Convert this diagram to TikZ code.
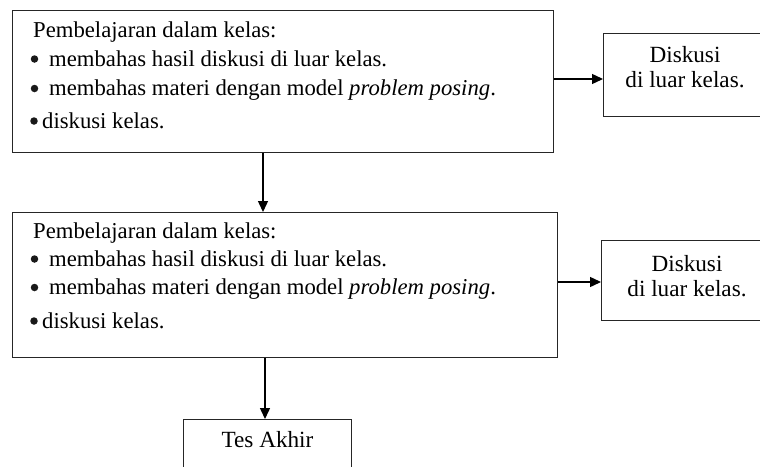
\documentclass[tikz,border=0pt]{standalone}
\usepackage{fontspec}
\setmainfont{Liberation Serif}
\usetikzlibrary{arrows.meta}
\begin{document}
\begin{tikzpicture}[x=1pt,y=-1pt,
  box/.style={draw=black!85,line width=1.4pt,inner sep=0pt,anchor=north west},
  txt/.style={anchor=base west,inner sep=0pt,font=\fontsize{22.7}{27}\selectfont},
  ctxt/.style={anchor=base,inner sep=0pt,font=\fontsize{23.2}{27}\selectfont},
  bul/.style={circle,fill=black!90,inner sep=0pt,minimum size=7.5pt},
  conn/.style={line width=1.4pt,-{Triangle[length=11pt,width=10pt]}}]
\useasboundingbox (0,0) rectangle (760,466);
\clip (0,0) rectangle (760,466);
% box 1
\node[box,minimum width=541pt,minimum height=142pt] (b1) at (12,9.5) {};
\node[txt] (b1l1) at (33,37) {Pembelajaran dalam kelas:};
\node[bul] (b1p2) at (34.5,59) {};
\node[txt] (b1l2) at (49,66) {membahas hasil diskusi di luar kelas.};
\node[bul] (b1p3) at (34.5,88.5) {};
\node[txt] (b1l3) at (49,95.5) {membahas materi dengan model \textit{problem posing}.};
\node[bul] (b1p4) at (34,121) {};
\node[txt] (b1l4) at (42,128) {diskusi kelas.};
% side box 1
\node[box,minimum width=170pt,minimum height=83pt] (s1) at (603,33) {};
\node[ctxt] (s1a) at (685,62) {Diskusi};
\node[ctxt] (s1b) at (685,87) {di luar kelas.};
% box 2
\node[box,minimum width=545pt,minimum height=145pt] (b2) at (12,212) {};
\node[txt] (b2l1) at (33,238) {Pembelajaran dalam kelas:};
\node[bul] (b2p2) at (34.5,259) {};
\node[txt] (b2l2) at (49,266) {membahas hasil diskusi di luar kelas.};
\node[bul] (b2p3) at (34.5,287.5) {};
\node[txt] (b2l3) at (49,294.5) {membahas materi dengan model \textit{problem posing}.};
\node[bul] (b2p4) at (34,321) {};
\node[txt] (b2l4) at (42,328) {diskusi kelas.};
% side box 2
\node[box,minimum width=172pt,minimum height=80pt] (s2) at (601,240) {};
\node[ctxt] (s2a) at (687,271) {Diskusi};
\node[ctxt] (s2b) at (687,296) {di luar kelas.};
% final box
\node[box,minimum width=168pt,minimum height=70pt] (t) at (183,419) {};
\node[ctxt] (ta) at (267.5,447) {Tes Akhir};
% connectors
\draw[conn] (b1.east |- 0,79) -- (s1.west |- 0,79);
\draw[conn] (b2.east |- 0,282) -- (s2.west |- 0,282);
\draw[conn] (b1.south -| 263,0) -- (b2.north -| 263,0);
\draw[conn] (b2.south -| 265,0) -- (t.north -| 265,0);
\end{tikzpicture}
\end{document}
